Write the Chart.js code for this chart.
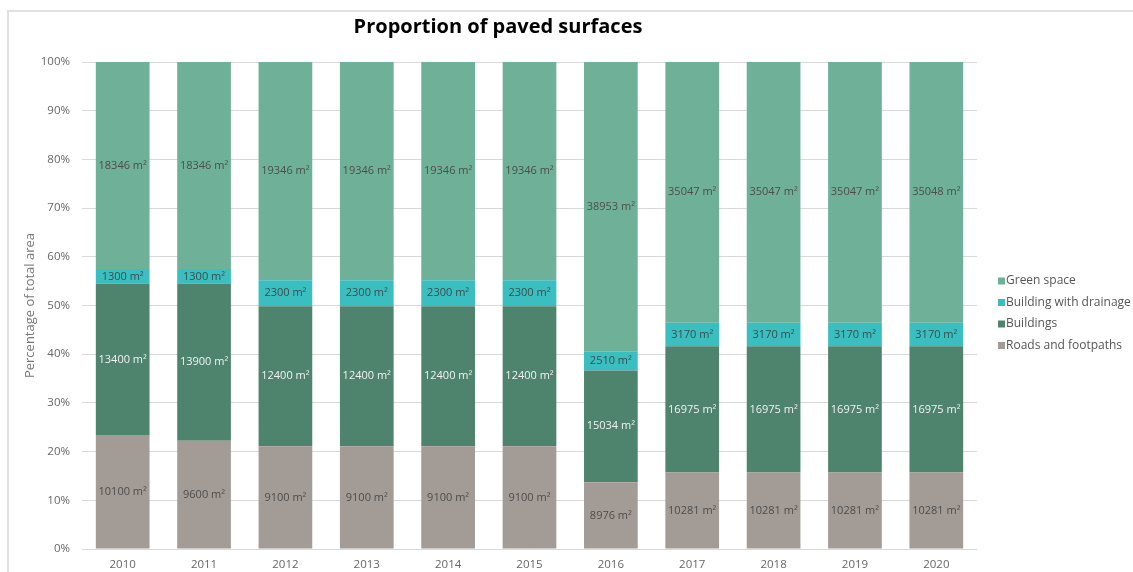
<!DOCTYPE html>
<html>
<head>
<meta charset="utf-8">
<script src="https://cdn.jsdelivr.net/npm/chart.js@4"></script>
<style>
html,body{margin:0;padding:0;background:#fff;}
#wrap{position:relative;width:1133px;height:572px;}
canvas{display:block;}
</style>
</head>
<body>
<div id="wrap"><canvas id="c" width="1133" height="572"></canvas></div>
<script>
const years = ['2010','2011','2012','2013','2014','2015','2016','2017','2018','2019','2020'];
const roads = [10100, 9600, 9100, 9100, 9100, 9100, 8976, 10281, 10281, 10281, 10281];
const buildings = [13400, 13900, 12400, 12400, 12400, 12400, 15034, 16975, 16975, 16975, 16975];
const drainage = [1300, 1300, 2300, 2300, 2300, 2300, 2510, 3170, 3170, 3170, 3170];
const green = [18346, 18346, 19346, 19346, 19346, 19346, 38953, 35047, 35047, 35047, 35048];
const seriesNames = ['Roads and footpaths', 'Buildings', 'Building with drainage', 'Green space'];
const titleText = 'Proportion of paved surfaces';
const yTitle = 'Percentage of total area';

const colors = ['#a39b95', '#4e846e', '#3abebf', '#6fb099'];
const labelColors = ['#4d4d4d', '#f2f2f2', '#3d4d4d', '#4d4d4d'];
const FONT = "'Open Sans', 'DejaVu Sans', sans-serif";

const raw = [roads, buildings, drainage, green];
const totals = years.map((_, i) => raw.reduce((s, arr) => s + arr[i], 0));

const datasets = raw.map((arr, k) => ({
  label: seriesNames[k],
  data: arr.map((v, i) => v / totals[i] * 100),
  rawValues: arr,
  backgroundColor: colors[k],
  borderWidth: 0,
  barPercentage: 0.66,
  categoryPercentage: 1.0
}));

const decor = {
  id: 'decor',
  beforeDraw(chart) {
    const ctx = chart.ctx;
    ctx.save();
    ctx.fillStyle = '#fff';
    ctx.fillRect(0, 0, chart.width, chart.height);
    ctx.fillStyle = '#e0e0e0';
    ctx.fillRect(7, 10, chart.width - 7, 2);
    ctx.fillRect(7, 10, 2, chart.height - 10);
    ctx.restore();
  },
  afterDatasetsDraw(chart) {
    const ctx = chart.ctx;
    ctx.save();
    ctx.font = "11px " + FONT;
    ctx.textAlign = 'center';
    ctx.textBaseline = 'middle';
    chart.data.datasets.forEach((ds, k) => {
      const meta = chart.getDatasetMeta(k);
      meta.data.forEach((bar, i) => {
        const yc = (bar.y + bar.base) / 2;
        ctx.fillStyle = labelColors[k];
        ctx.fillText(ds.rawValues[i] + ' m\u00B2', bar.x, yc);
      });
    });
    ctx.restore();
  },
  afterDraw(chart) {
    const ctx = chart.ctx;
    ctx.save();
    // title
    ctx.font = "bold 20px " + FONT;
    ctx.fillStyle = '#000';
    ctx.textAlign = 'center';
    ctx.textBaseline = 'middle';
    ctx.fillText(titleText, 498, 27);
    // legend (reverse order)
    ctx.font = "12px " + FONT;
    ctx.textAlign = 'left';
    const rows = [281, 302.5, 324, 345.5];
    for (let j = 0; j < 4; j++) {
      const k = 3 - j;
      ctx.fillStyle = colors[k];
      ctx.fillRect(998, rows[j] - 3.5, 7, 7);
      ctx.fillStyle = '#555';
      ctx.fillText(seriesNames[k], 1006, rows[j]);
    }
    ctx.restore();
  }
};

new Chart(document.getElementById('c'), {
  type: 'bar',
  data: { labels: years, datasets },
  options: {
    responsive: false,
    animation: false,
    layout: { padding: { left: 0, right: 156, top: 62, bottom: 0 } },
    plugins: { legend: { display: false }, title: { display: false }, tooltip: { enabled: false } },
    scales: {
      x: {
        stacked: true,
        grid: { display: false, drawTicks: false },
        border: { display: false },
        ticks: { color: '#666', font: { size: 11.5, family: FONT }, padding: 9 },
        afterFit(s) { s.height = 23; }
      },
      y: {
        stacked: true,
        min: 0, max: 100,
        grid: { color: '#d9d9d9', drawTicks: false, lineWidth: 1 },
        border: { display: false },
        ticks: { stepSize: 10, color: '#666', font: { size: 11.5, family: FONT }, padding: 12,
                 callback: v => v + '%' },
        title: { display: true, text: yTitle, color: '#777', font: { size: 13, family: FONT, lineHeight: 1.2 },
                 padding: { top: 22, bottom: 0 } },
        afterFit(s) { s.width = 82; }
      }
    }
  },
  plugins: [decor]
});
</script>
</body>
</html>
